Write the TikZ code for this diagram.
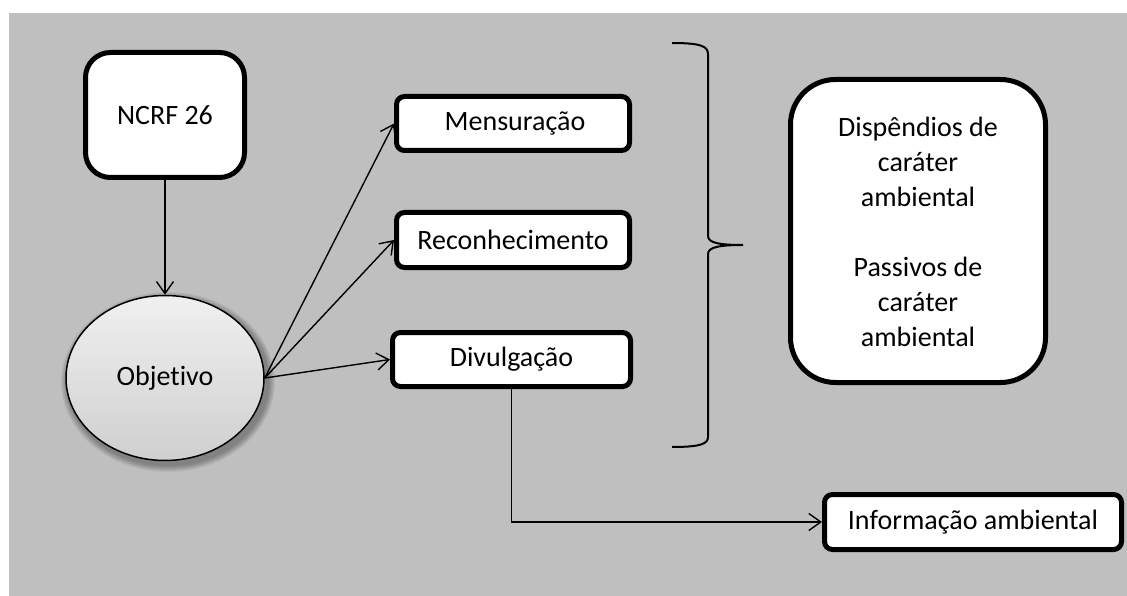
\documentclass[tikz,border=0pt]{standalone}
\usepackage{fontspec}
\setmainfont{Carlito}[Ligatures=NoCommon]
\usetikzlibrary{arrows.meta,shapes.geometric}
\definecolor{panel}{HTML}{BFBFBF}
\definecolor{ovaltop}{HTML}{F0F0F0}
\definecolor{ovalbottom}{HTML}{CFCFCF}
\tikzset{
  x=1pt, y=-1pt,
  txt/.style={font=\fontsize{28}{35}\selectfont},
  box/.style={draw=black, line width=5pt, fill=white, rounded corners=#1,
    inner sep=0pt, align=center, txt},
  box/.default=8pt,
  link/.style={line width=1.4pt, -{Straight Barb[length=12pt,width=17pt]}},
  bracket/.style={line width=2pt},
}
\begin{document}
\begin{tikzpicture}
  % page and grey panel
  \useasboundingbox (0,0) rectangle (1127,596);
  \fill[white] (0,0) rectangle (1127,596);
  \fill[panel] (9,13) rectangle (1127,596);

  % soft shadow under the oval
  \foreach \r in {1,...,7}
    \fill[black, opacity=0.05] (168,382) ellipse ({100+\r} and {83+\r});

  % nodes
  \node[box=25pt, minimum width=159pt, minimum height=125pt] (ncrf) at (165,115) {NCRF 26};
  \node[ellipse, draw=black, line width=1.5pt, top color=ovaltop, bottom color=ovalbottom,
        minimum width=198pt, minimum height=165pt, inner sep=0pt, txt] (obj) at (165,378) {Objetivo};
  \node[box, minimum width=233pt, minimum height=54pt] (mens) at (513,123.5) {\hspace{4pt}Mensuração};
  \node[box, minimum width=233pt, minimum height=55pt] (recon) at (513,240) {Reconhecimento};
  \node[box, minimum width=238pt, minimum height=54pt] (divul) at (511.5,359.5) {Divulgação};
  \node[box=45pt, minimum width=255pt, minimum height=303pt] (disp) at (918,231)
    {\\[-14pt]Dispêndios de\\caráter\\ambiental\\[35pt]Passivos de\\caráter\\ambiental};
  \node[box, minimum width=297pt, minimum height=55pt] (info) at (973,522) {Informação ambiental};

  % connectors
  \draw[link] (ncrf.south) -- (obj.north);
  \draw[link] (obj.east) -- (mens.west);
  \draw[link] (obj.east) -- (recon.west);
  \draw[link] (obj.east) -- (divul.west);
  \draw[link] (divul.south) |- (info.west);

  % curly bracket grouping the three actions
  \draw[bracket] (672,43) .. controls (700,43) and (708,46) .. (708,54)
    -- (708,236) .. controls (708,243) and (720,245) .. (743,245)
    .. controls (720,245) and (708,247) .. (708,254)
    -- (708,437) .. controls (708,444) and (700,447) .. (672,447);
\end{tikzpicture}
\end{document}
